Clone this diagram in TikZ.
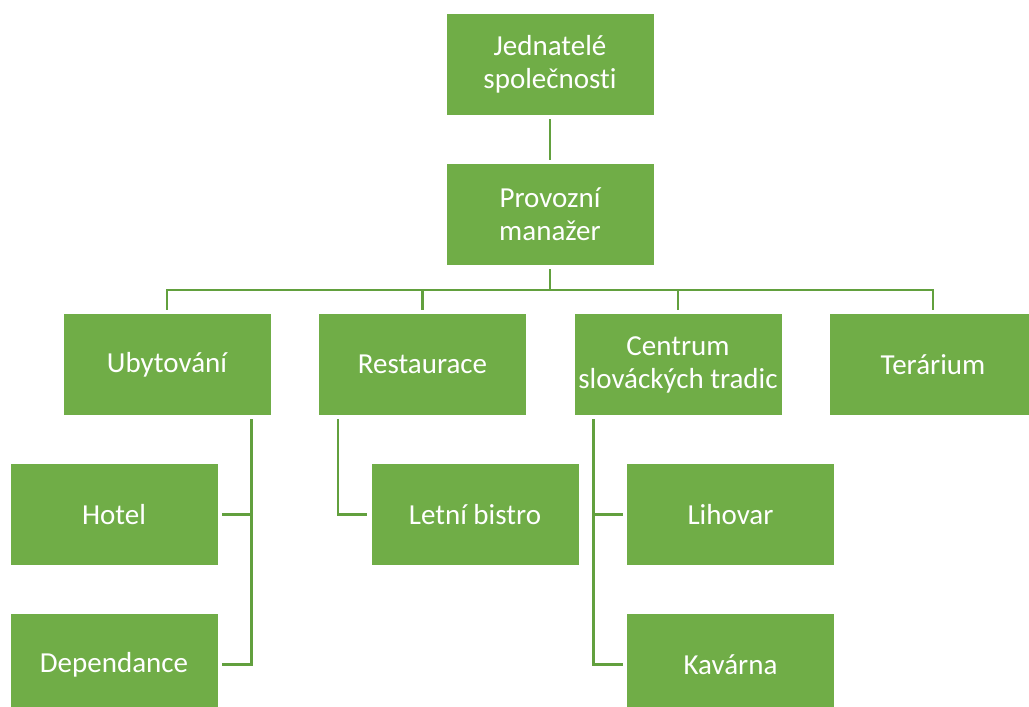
\documentclass[tikz,border=0pt]{standalone}
\usepackage{fontspec}
\setmainfont[Ligatures=NoCommon]{Carlito}
\definecolor{boxgreen}{HTML}{70AD47}
\definecolor{linegreen}{HTML}{62A03E}
\begin{document}
\begin{tikzpicture}[x=1pt,y=-1pt,
  unit/.style={rectangle, fill=boxgreen, text=white, inner sep=0pt,
    minimum width=207pt, minimum height=101pt, align=center,
    font=\fontsize{29}{33}\selectfont},
  conn/.style={draw=linegreen, line width=2.5pt, shorten <=4pt, shorten >=4pt}]
  \useasboundingbox (0,0) rectangle (1029,707);
  \fill[white] (0,0) rectangle (1029,707);

  % top level
  \node[unit] (J) at (550,64.5) {Jednatelé\\společnosti};
  \node[unit] (P) at (550,214.5) {Provozní\\manažer};

  % departments
  \node[unit] (U) at (167,364.5) {Ubytování};
  \node[unit] (R) at (422.5,364.5) {Restaurace};
  \node[unit] (C) at (678,364.5) {Centrum\\slováckých tradic};
  \node[unit] (T) at (933,364.5) {Terárium};

  % units below departments
  \node[unit] (H) at (114,514.5) {Hotel};
  \node[unit] (D) at (114,664.5) {Dependance};
  \node[unit] (L) at (475,514.5) {Letní bistro};
  \node[unit] (K1) at (730.5,514.5) {Lihovar};
  \node[unit] (K2) at (730.5,664.5) {Kavárna};

  % connectors
  \draw[conn] (J.south) -- (P.north);
  \draw[conn] (P.south) -- ++(0,25) -| (U.north);
  \draw[conn] (P.south) -- ++(0,25) -| (R.north);
  \draw[conn] (P.south) -- ++(0,25) -| (C.north);
  \draw[conn] (P.south) -- ++(0,25) -| (T.north);

  \draw[conn] ([xshift=-19pt]U.south east) |- (H.east);
  \draw[conn] ([xshift=-19pt]U.south east) |- (D.east);
  \draw[conn] ([xshift=19pt]R.south west) |- (L.west);
  \draw[conn] ([xshift=19pt]C.south west) |- (K1.west);
  \draw[conn] ([xshift=19pt]C.south west) |- (K2.west);
\end{tikzpicture}
\end{document}
